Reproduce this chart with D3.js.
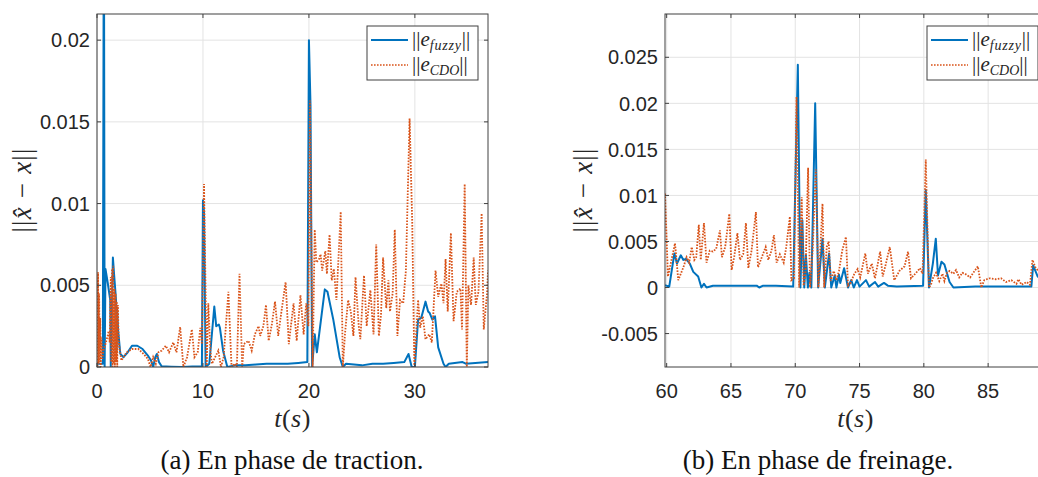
<!DOCTYPE html>
<html><head><meta charset="utf-8">
<script src="https://cdn.jsdelivr.net/npm/d3@7"></script>
<style>
html,body{margin:0;padding:0;background:#fff;overflow:hidden}
svg{display:block}
</style></head><body>
<svg id="chart" width="1038" height="477"></svg>
<script>
// ---------- data ----------
const tractionTicksX = [0, 10, 20, 30];
const tractionTicksY = [0, 0.005, 0.01, 0.015, 0.02];
const tractionTickLabelsY = ["0", "0.005", "0.01", "0.015", "0.02"];
const freinageTicksX = [60, 65, 70, 75, 80, 85];
const freinageTicksY = [-0.005, 0, 0.005, 0.01, 0.015, 0.02, 0.025];
const freinageTickLabelsY = ["-0.005", "0", "0.005", "0.01", "0.015", "0.02", "0.025"];
const seriesNames = ["fuzzy", "CDO"];
const captions = ["(a) En phase de traction.", "(b) En phase de freinage."];

// [t (s), ||x^-x||]
const tractionFuzzy = [[0,0.0002],[0.55,0.0002],[0.65,0.03],[0.72,0],[0.8,0.006],[1.0,0.0052],[1.25,0.0041],[1.3,0],[1.5,0.0067],[1.62,0.0056],[1.75,0.0045],[1.8,0.004],[1.85,0.001],[1.9,0.0035],[2.0,0.0022],[2.2,0.0008],[2.5,0.0006],[2.9,0.0009],[3.3,0.0013],[3.8,0.0013],[4.3,0.0011],[4.8,0.0007],[5.1,0.0004],[5.3,0],[5.5,0.0006],[5.65,0.0008],[5.85,0.0003],[6.1,0.00005],[7,0.00002],[8,0],[9,0.00003],[9.9,0.00005],[10.0,0.0102],[10.1,0.0095],[10.25,0],[10.6,0.0002],[11.07,0.0037],[11.25,0.0025],[11.5,0.0026],[11.6,0.0024],[11.9,0.001],[12.3,0],[13,0.0001],[14,0.0001],[15,0.00015],[16,0.0002],[17,0.0002],[18,0.0002],[19,0.00025],[19.85,0.0003],[20.0,0.02],[20.15,0.016],[20.3,0],[20.55,0.002],[20.75,0.0009],[21.5,0.00475],[21.75,0.0046],[22.3,0.0029],[22.9,0.0006],[23.2,0],[23.5,0.0002],[25,0.0001],[26,0.0002],[27,0.0002],[28,0.00025],[29,0.0003],[29.4,0.0008],[29.7,0],[30.0,0],[30.3,0.0029],[30.6,0.003],[31.0,0.004],[31.25,0.0034],[31.4,0.0033],[31.65,0.0029],[31.9,0.0031],[32.2,0.0012],[32.7,0.0002],[32.9,0],[33.2,0.0002],[34.5,0.0003],[34.8,0.0002],[36.9,0.0003]];

const tractionCDO = [[0,0.0053],[0.05,0],[0.1,0.0058],[0.15,0.0002],[0.2,0.0045],[0.25,0.0003],[0.3,0.003],[0.35,0],[0.42,0.0018],[0.5,0.0005],[0.6,0.001],[0.8,0.0014],[1.0,0.0019],[1.1,0.0022],[1.2,0.0015],[1.3,0.0055],[1.35,0.0003],[1.42,0.006],[1.47,0],[1.53,0.0062],[1.58,0.0002],[1.64,0.0048],[1.69,0],[1.75,0.0045],[1.8,0.0003],[1.86,0.004],[1.91,0],[1.97,0.0038],[2.05,0.0015],[2.3,0.0004],[2.8,0.0009],[3.3,0.0011],[3.9,0.0011],[4.4,0.0008],[4.8,0.0005],[5.05,0],[5.3,0.0006],[5.55,0.0002],[5.8,0.0009],[6.1,0.001],[6.5,0.0013],[6.8,0.0009],[7.2,0.0015],[7.5,0.0009],[7.85,0.00245],[8.15,0],[8.5,0.0006],[8.95,0.0023],[9.2,0.0006],[9.5,0.0009],[9.75,0.0024],[9.9,0.0014],[10.1,0.0112],[10.35,0],[10.5,0.0039],[10.7,0.001],[10.85,0.0002],[11.15,0.0006],[11.45,0.001],[11.7,0],[11.95,0.0006],[12.4,0.0046],[12.7,0],[13.0,0.0002],[13.2,0],[13.45,0.0057],[13.7,0],[13.85,0.0014],[14.3,0.0016],[14.6,0.001],[14.9,0.002],[15.25,0.0025],[15.4,0.0019],[15.7,0.0025],[15.95,0.0038],[16.2,0.0016],[16.5,0.0026],[16.8,0.004],[17.1,0.0019],[17.3,0.0029],[17.8,0.0052],[18.1,0.0014],[18.55,0.0039],[18.85,0.0016],[19.2,0.0044],[19.5,0.002],[19.75,0.0039],[19.95,0.0025],[20.1,0.0163],[20.35,0],[20.55,0.0084],[20.7,0.0064],[20.95,0.0066],[21.1,0.0069],[21.25,0.0059],[21.55,0.0071],[21.7,0.0057],[21.95,0.0081],[22.15,0.0053],[22.35,0.006],[22.6,0.0041],[23.0,0.0095],[23.2,0],[23.4,0.002],[23.7,0.0041],[23.95,0.0034],[24.2,0.0019],[24.4,0.0055],[24.7,0.0025],[24.85,0.0017],[25.2,0.0056],[25.45,0.0025],[25.8,0.0047],[26.1,0.002],[26.35,0.0075],[26.6,0.0019],[26.8,0.0032],[27.0,0.0067],[27.3,0.0036],[27.5,0.0053],[27.65,0.0034],[27.9,0.0045],[28.1,0.0084],[28.35,0.0019],[28.6,0.0041],[28.9,0.0039],[29.15,0.0059],[29.5,0.0152],[29.75,0.0089],[29.95,0],[30.3,0.0041],[30.5,0.0024],[30.75,0.0031],[31.0,0.0017],[31.35,0.002],[31.6,0.0015],[31.95,0.0059],[32.2,0.0043],[32.5,0.0051],[32.7,0.0039],[32.9,0.0066],[33.1,0.0034],[33.4,0.0082],[33.65,0.0028],[33.95,0.0046],[34.3,0.0048],[34.45,0.0023],[34.7,0.0112],[34.9,0],[35.05,0.005],[35.3,0.0038],[35.55,0.0067],[35.75,0.0038],[36.0,0.0046],[36.3,0.0094],[36.5,0.0023],[36.8,0.0044],[36.9,0.0059]];

const freinageFuzzy = [[59.87,0.00025],[60.2,0.0001],[60.6,0.0037],[60.8,0.0026],[61.1,0.0035],[61.3,0.003],[61.5,0.0031],[61.8,0.0026],[62.07,0.0017],[62.45,0.0012],[62.7,0],[62.9,0.0004],[63.1,0],[63.6,0.0002],[65,0.0002],[66,0.0002],[67,0.0002],[67.2,0],[67.5,0.0002],[68.5,0.0002],[69.84,0.0001],[70.2,0.0242],[70.4,0],[70.55,0.0073],[70.7,0],[70.83,0.0035],[70.98,0],[71.1,0.0016],[71.25,0],[71.55,0.02],[71.78,0],[72.12,0.0053],[72.3,0],[72.63,0.0037],[72.8,0],[73.07,0.0013],[73.2,0],[73.4,0.0014],[73.5,0.0005],[73.8,0.0021],[74.1,0],[74.35,0.0008],[74.55,0],[74.8,0.0008],[75.0,0.0001],[75.5,0.0008],[75.75,0.0001],[76.2,0.0006],[76.45,0.0001],[76.9,0.0005],[77.2,0.0002],[77.9,0.0001],[79.94,0.0002],[80.15,0.0106],[80.4,0],[80.7,0.0026],[80.93,0.0053],[81.1,0.0013],[81.37,0.0028],[81.6,0.0025],[82.0,0.0006],[82.3,0],[84,0.0001],[88.36,0.0001],[88.5,0.0024],[88.85,0.0012],[89.5,0.0005]];

const freinageCDO = [[59.87,0.0102],[60.1,0.0012],[60.65,0.0048],[60.9,0.0008],[61.3,0.0022],[61.55,0.0033],[61.75,0.0027],[61.95,0.0044],[62.15,0.003],[62.3,0.0033],[62.5,0.0068],[62.65,0.003],[62.9,0.007],[63.1,0.0027],[63.35,0.004],[63.6,0.0039],[63.85,0.0042],[64.14,0.0062],[64.3,0.0033],[64.55,0.0044],[64.87,0.008],[65.05,0.0019],[65.25,0.0033],[65.5,0.0059],[65.7,0.003],[65.95,0.0036],[66.16,0.007],[66.35,0.0021],[66.6,0.004],[66.94,0.0082],[67.1,0.0022],[67.4,0.0033],[67.7,0.0044],[67.9,0.003],[68.15,0.004],[68.34,0.0057],[68.55,0.0027],[68.8,0.0036],[69.1,0.0027],[69.3,0.0044],[69.58,0.0077],[69.7,0.0008],[69.9,0.001],[70.1,0.0207],[70.3,0],[70.5,0.0098],[70.65,0.0002],[70.8,0.0016],[71.0,0.013],[71.15,0],[71.35,0.004],[71.6,0.0128],[71.8,0],[72.12,0.0091],[72.25,0],[72.45,0.0044],[72.6,0.005],[72.75,0.0007],[73.0,0.0018],[73.2,0.0008],[73.4,0.0018],[73.65,0.004],[73.94,0.0055],[74.1,0.0002],[74.3,0.0005],[74.6,0.0015],[74.85,0.002],[75.05,0.0011],[75.45,0.0037],[75.65,0.0015],[75.95,0.0026],[76.2,0.001],[76.6,0.0039],[76.8,0.0012],[77.0,0.0023],[77.35,0.0044],[77.7,0.0008],[78.1,0.0018],[78.5,0.0023],[78.77,0.0039],[79.0,0.001],[79.4,0.0016],[79.7,0.0021],[79.9,0.0015],[80.15,0.0139],[80.4,0],[80.55,0.0003],[80.7,0.001],[80.95,0.0016],[81.2,0.0007],[81.45,0.0015],[81.6,0.0007],[81.8,0.0016],[82.0,0.0018],[82.3,0.0015],[82.5,0.0019],[82.75,0.0011],[83.0,0.0016],[83.2,0.0015],[83.6,0.0011],[84.2,0.0023],[84.47,0],[84.7,0.0008],[85.1,0.001],[85.6,0.0009],[86.0,0.001],[86.4,0.0006],[86.8,0.0008],[87.2,0.0004],[87.35,0.0009],[87.6,0.0003],[88.0,0.0006],[88.25,0.0003],[88.45,0.003],[88.7,0.0021],[88.85,0.0019],[89.5,0.0015]];

// ---------- drawing ----------
const svg = d3.select("#chart");
const BLUE = "#0072BD", ORANGE = "#D95319";
const AXIS = "#404040", GRID = "#e3e3e3", TXT = "#262626";
const SANS = "'Liberation Sans', Arial, Helvetica, sans-serif";
const SERIF = "'Liberation Serif', 'Times New Roman', serif";

const panels = [
  {id:"a", left:97, right:488, top:14, bottom:367, xDom:[0,36.9], yDom:[0,0.0216],
   xt:tractionTicksX, yt:tractionTicksY, ytl:tractionTickLabelsY,
   fuzzy:tractionFuzzy, cdo:tractionCDO, legendX:367, ylabX:22, caption:captions[0], capX:292},
  {id:"b", left:665, right:1046, top:14, bottom:367, xDom:[59.87,89.5], yDom:[-0.00863,0.0297],
   xt:freinageTicksX, yt:freinageTicksY, ytl:freinageTickLabelsY,
   fuzzy:freinageFuzzy, cdo:freinageCDO, legendX:927, ylabX:583, caption:captions[1], capX:818}
];

const defs = svg.append("defs");

panels.forEach(p => {
  const x = d3.scaleLinear().domain(p.xDom).range([p.left, p.right]);
  const y = d3.scaleLinear().domain(p.yDom).range([p.bottom, p.top]);
  const g = svg.append("g");

  // grid
  g.append("g").selectAll("line").data(p.xt).join("line")
    .attr("x1", d => x(d)).attr("x2", d => x(d)).attr("y1", p.top).attr("y2", p.bottom)
    .attr("stroke", GRID).attr("stroke-width", 1);
  g.append("g").selectAll("line").data(p.yt).join("line")
    .attr("y1", d => y(d)).attr("y2", d => y(d)).attr("x1", p.left).attr("x2", p.right)
    .attr("stroke", GRID).attr("stroke-width", 1);

  // clip
  defs.append("clipPath").attr("id", "clip-" + p.id).append("rect")
    .attr("x", p.left).attr("y", p.top).attr("width", p.right - p.left).attr("height", p.bottom - p.top);

  const line = d3.line().x(d => x(d[0])).y(d => y(d[1]));
  const lg = g.append("g").attr("clip-path", `url(#clip-${p.id})`);
  lg.append("path").datum(p.fuzzy).attr("d", line).attr("fill", "none")
    .attr("stroke", BLUE).attr("stroke-width", 2).attr("stroke-linejoin", "round");
  lg.append("path").datum(p.cdo).attr("d", line).attr("fill", "none")
    .attr("stroke", ORANGE).attr("stroke-width", 1.8).attr("stroke-dasharray", "1.6 1.4");

  // axes box
  g.append("rect").attr("x", p.left).attr("y", p.top).attr("width", p.right - p.left)
    .attr("height", p.bottom - p.top).attr("fill", "none").attr("stroke", AXIS).attr("stroke-width", 1);

  // ticks (inside, all four sides)
  const tl = 4;
  const tg = g.append("g").attr("stroke", AXIS).attr("stroke-width", 1);
  p.xt.forEach(d => {
    tg.append("line").attr("x1", x(d)).attr("x2", x(d)).attr("y1", p.bottom).attr("y2", p.bottom - tl);
    tg.append("line").attr("x1", x(d)).attr("x2", x(d)).attr("y1", p.top).attr("y2", p.top + tl);
  });
  p.yt.forEach(d => {
    tg.append("line").attr("y1", y(d)).attr("y2", y(d)).attr("x1", p.left).attr("x2", p.left + tl);
    tg.append("line").attr("y1", y(d)).attr("y2", y(d)).attr("x1", p.right).attr("x2", p.right - tl);
  });

  // tick labels
  g.append("g").selectAll("text").data(p.xt).join("text")
    .attr("x", d => x(d)).attr("y", 398).attr("text-anchor", "middle")
    .attr("font-family", SANS).attr("font-size", 20).attr("fill", TXT).text(d => d);
  g.append("g").selectAll("text").data(p.yt).join("text")
    .attr("x", p.left - 7).attr("y", d => y(d)).attr("dy", "0.36em").attr("text-anchor", "end")
    .attr("font-family", SANS).attr("font-size", 20).attr("fill", TXT).text((d, i) => p.ytl[i]);

  // x label  t(s)
  const xl = g.append("text").attr("x", (p.left + p.right) / 2).attr("y", 427).attr("text-anchor", "middle")
    .attr("font-family", SERIF).attr("font-size", 26).attr("fill", TXT).attr("letter-spacing", 0.5);
  xl.append("tspan").attr("font-style", "italic").text("t");
  xl.append("tspan").text("(");
  xl.append("tspan").attr("font-style", "italic").text("s");
  xl.append("tspan").text(")");

  // y label ||x^ - x||
  const yl = g.append("text").attr("transform", `translate(${p.ylabX + 9},190) rotate(-90)`)
    .attr("text-anchor", "middle").attr("font-family", SERIF).attr("font-size", 27)
    .attr("letter-spacing", 1.2).attr("fill", TXT);
  yl.append("tspan").text("||");
  yl.append("tspan").attr("font-style", "italic").text("x\u0302");
  yl.append("tspan").text(" \u2212 ");
  yl.append("tspan").attr("font-style", "italic").text("x");
  yl.append("tspan").text("||");

  // legend
  const lgd = g.append("g");
  lgd.append("rect").attr("x", p.legendX).attr("y", 26).attr("width", 111).attr("height", 54)
    .attr("fill", "#fff").attr("stroke", AXIS).attr("stroke-width", 1);
  seriesNames.forEach((name, i) => {
    const yy = 40 + i * 25;
    lgd.append("line").attr("x1", p.legendX + 4).attr("x2", p.legendX + 41).attr("y1", yy).attr("y2", yy)
      .attr("stroke", i === 0 ? BLUE : ORANGE).attr("stroke-width", i === 0 ? 2 : 1.7)
      .attr("stroke-dasharray", i === 0 ? null : "1.6 1.4");
    const t = lgd.append("text").attr("x", p.legendX + 45).attr("y", yy + 6)
      .attr("font-family", SERIF).attr("font-size", 21).attr("fill", TXT);
    t.append("tspan").text("||");
    t.append("tspan").attr("font-style", "italic").text("e");
    t.append("tspan").attr("font-style", "italic").attr("font-size", 14).attr("dy", 4)
      .attr("letter-spacing", i === 0 ? 0.8 : 0).text(name);
    t.append("tspan").attr("dy", -4).text("||");
  });

  // caption
  svg.append("text").attr("x", p.capX).attr("y", 469).attr("text-anchor", "middle")
    .attr("font-family", SERIF).attr("font-size", 27).attr("fill", "#111").text(p.caption);
});
</script>
</body></html>
